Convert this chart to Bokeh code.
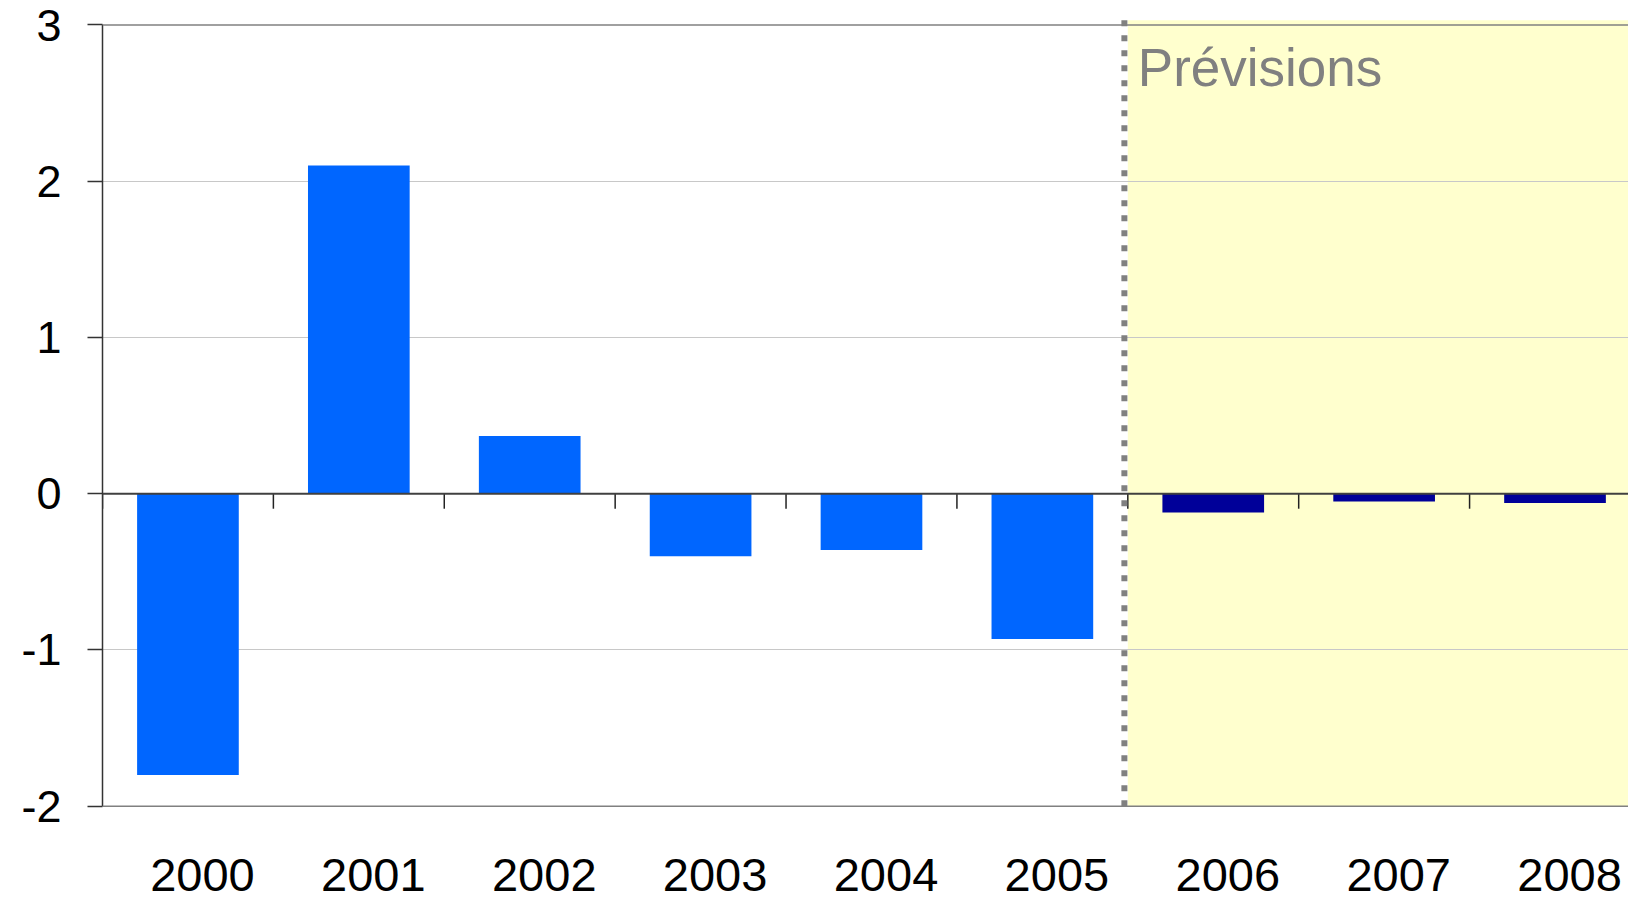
from bokeh.plotting import figure
from bokeh.models import (Range1d, FixedTicker, Span, BoxAnnotation, Label,
                          CustomJSTickFormatter, ColumnDataSource)
from bokeh.core.properties import value
from bokeh.embed import file_html
from bokeh.resources import INLINE

# ---- data ----
years = ["2000", "2001", "2002", "2003", "2004", "2005", "2006", "2007", "2008"]
values = [-1.8, 2.1, 0.37, -0.4, -0.36, -0.93, -0.12, -0.05, -0.06]
is_forecast = [False, False, False, False, False, False, True, True, True]
y_ticks = [-2, -1, 0, 1, 2, 3]
forecast_label = "Prévisions"

# ---- styling ----
actual_color = "#0066FF"
forecast_color = "#000099"
font = "Liberation Sans"

n = len(years)
first_forecast = is_forecast.index(True)
y_min, y_max = min(y_ticks), max(y_ticks)
centers = [i + 0.5 for i in range(n)]
colors = [forecast_color if f else actual_color for f in is_forecast]
src = ColumnDataSource(dict(x=centers, value=values, color=colors))

x_end = 8.93
y_top = 3.0544       # a little headroom above the top gridline
y_bottom = -2.61     # room below the plot area for the category labels
label_row = y_min - 0.335

p = figure(width=1628, height=901, output_backend="svg", toolbar_location=None,
           x_range=Range1d(0, x_end), y_range=Range1d(y_bottom, y_top),
           x_axis_location=None,
           min_border_left=102, min_border_right=0, min_border_top=16,
           min_border_bottom=0, background_fill_color="white",
           border_fill_color="white")
p.outline_line_color = None

# forecast shaded area
p.add_layout(BoxAnnotation(left=first_forecast, bottom=y_min, top=3.03,
                           fill_color="#FFFFCE", fill_alpha=1.0,
                           line_color=None, level="image"))

p.vbar(x="x", top="value", bottom=0, width=0.595, fill_color="color",
       line_color=None, source=src)

# grid
p.xgrid.visible = False
p.ygrid.ticker = FixedTicker(ticks=[t for t in y_ticks if t not in (y_min, 0, y_max)])
p.ygrid.grid_line_color = "#C8C8C8"
p.ygrid.grid_line_width = 1

# plot-area border (top and bottom)
p.add_layout(Span(location=y_max, dimension="width",
                  line_color="#808080", line_width=1.5))
p.add_layout(Span(location=y_min, dimension="width",
                  line_color="#808080", line_width=1.5))
# zero line
p.add_layout(Span(location=0, dimension="width", line_color="#404040",
                  line_width=2))
# category tick marks on the zero line
bounds = list(range(n))
p.segment(x0=bounds, x1=bounds, y0=[0] * n, y1=[-0.096] * n,
          line_color="#222222", line_width=1.5)

# forecast separator
sep = first_forecast - 0.02
p.segment(x0=[sep], x1=[sep], y0=[y_min], y1=[y_top],
          line_color="#808080", line_width=6, line_dash="6 9")

p.add_layout(Label(x=first_forecast, y=y_max, x_offset=10, y_offset=-13,
                   text=forecast_label, text_font=font, text_font_size="53px",
                   text_color="#808080", text_baseline="top"))

# category labels under the plot area
p.text(x=[c + 0.085 for c in centers], y=[label_row] * n, text=years,
       text_align="center", text_baseline="top",
       text_font=value(font), text_font_size="47px", text_color="black")

# y axis
ya = p.yaxis[0]
ya.ticker = FixedTicker(ticks=y_ticks)
ya.formatter = CustomJSTickFormatter(code="return String(tick)")
ya.bounds = (y_min, y_max)
ya.major_tick_out = 15
ya.major_tick_in = 0
ya.minor_tick_out = 0
ya.minor_tick_in = 0
ya.axis_line_color = "#333333"
ya.axis_line_width = 1.5
ya.major_tick_line_color = "#333333"
ya.major_tick_line_width = 1.5
ya.major_label_text_font = font
ya.major_label_text_font_size = "45px"
ya.major_label_text_color = "black"
ya.major_label_standoff = 26

open("out.html", "w").write(file_html(p, INLINE))
